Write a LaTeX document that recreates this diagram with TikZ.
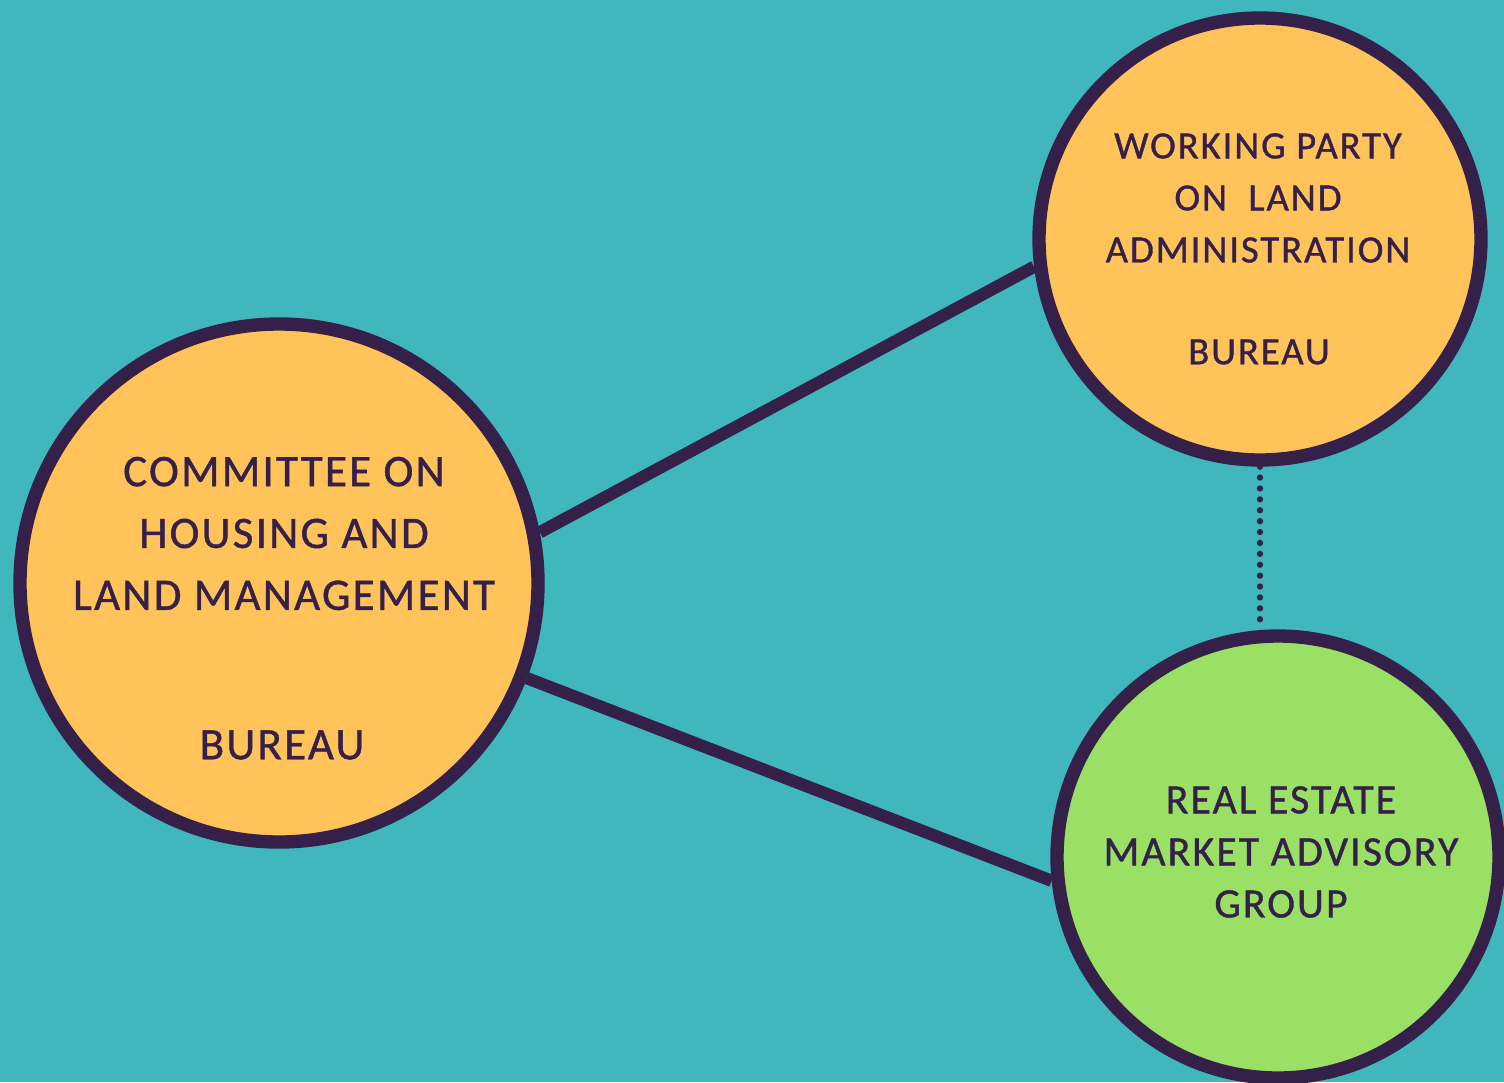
\documentclass[tikz,border=0pt]{standalone}
\usepackage{fontspec}
\setmainfont{Carlito}[LetterSpace=5, FakeBold=0.9]
\usepackage{xcolor}
\usepackage{tikz}
\usetikzlibrary{positioning}
\definecolor{backdrop}{RGB}{63,183,188}
\definecolor{bureau}{RGB}{255,195,90}
\definecolor{advisory}{RGB}{153,224,101}
\definecolor{outline}{RGB}{53,32,74}
\tikzset{
    body/.style={circle, draw=outline, line width=3.8pt, minimum size=4.42cm, inner sep=0pt},
    heading/.style={align=center, text=outline, font=\fontsize{11}{14.8}\selectfont},
    bigheading/.style={align=center, text=outline, font=\fontsize{12.8}{17.6}\selectfont},
    link/.style={draw=outline, line width=3.5pt},
    dotlink/.style={draw=outline, line width=1.8pt, line cap=round, dash pattern=on 0pt off 3.1pt}
}

\begin{document}
\begin{tikzpicture}
    % Backdrop
    \fill[backdrop] (0,0) rectangle (15.04,-10.82);
    \useasboundingbox (0,0) rectangle (15.04,-10.82);

    % Bodies
    \node[body, fill=bureau, minimum size=5.18cm] (chlm) at (2.79,-5.83) {};
    \node[body, fill=bureau] (wpla) at (12.60,-2.39) {};
    \node[body, fill=advisory] (rema) at (12.78,-8.57) {};

    % Links
    \draw[link] (chlm.11) -- (wpla.187);
    \draw[link] (chlm.-21) -- (rema.186);
    \draw[dotlink] (wpla.south) -- (wpla.south |- rema.north);

    % Texts
    \node[bigheading] (chlm_title) at (2.84,-5.335) {COMMITTEE ON\\HOUSING AND\\LAND MANAGEMENT};
    \node[bigheading] (chlm_bureau) at (2.82,-7.45) {BUREAU};
    \node[heading] (wpla_title) at (12.58,-1.98) {WORKING PARTY\\ON~~LAND\\ADMINISTRATION};
    \node[heading] (wpla_bureau) at (12.59,-3.52) {BUREAU};
    \node[heading, font=\fontsize{11.9}{14.8}\selectfont] (rema_title) at (12.81,-8.52) {REAL ESTATE\\MARKET ADVISORY\\GROUP};
\end{tikzpicture}
\end{document}
